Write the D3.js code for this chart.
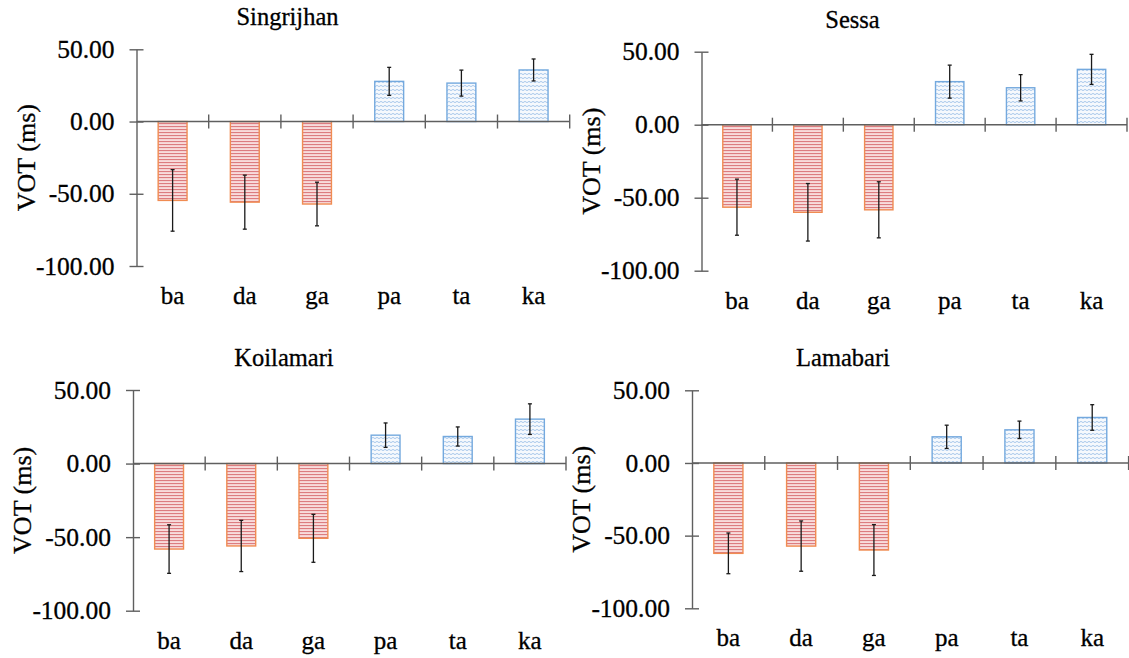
<!DOCTYPE html>
<html>
<head>
<meta charset="utf-8">
<script src="https://cdn.jsdelivr.net/npm/d3@7/dist/d3.min.js"></script>
<style>
  html, body { margin: 0; padding: 0; background: #fff; }
  svg { display: block; }
  text { font-family: "Liberation Serif", "Times New Roman", serif; fill: #000; stroke: #000; stroke-width: 0.3px; }
</style>
</head>
<body>
<svg id="chart" width="1129" height="658"></svg>
<script>
// ---- data ----
const categories = ["ba", "da", "ga", "pa", "ta", "ka"];
const yTicks = [50, 0, -50, -100];
const panelTitles = ["Singrijhan", "Sessa", "Koilamari", "Lamabari"];
const singrijhanMean = [-54.6, -55.8, -57.1, 27.8, 26.6, 35.7];
const singrijhanSD   = [21.3, 18.7, 15.1, 9.7, 9.0, 7.6];
const sessaMean      = [-56.5, -60.0, -58.3, 29.5, 25.3, 37.9];
const sessaSD        = [19.2, 19.7, 19.2, 11.3, 9.0, 10.3];
const koilamariMean  = [-58.1, -56.0, -50.8, 19.3, 18.4, 30.2];
const koilamariSD    = [16.5, 17.4, 16.3, 8.3, 6.5, 10.4];
const lamabariMean   = [-62.2, -57.2, -59.9, 18.0, 22.8, 31.3];
const lamabariSD     = [14.0, 17.3, 17.5, 8.0, 6.0, 8.8];

const means = [singrijhanMean, sessaMean, koilamariMean, lamabariMean];
const sds = [singrijhanSD, sessaSD, koilamariSD, lamabariSD];

// ---- layout (pixel geometry of each panel) ----
const layout = [
  { axisX: 136.5, endX: 569.7, yTop: 49.3, yBot: 266.0 },
  { axisX: 701.5, endX: 1127.0, yTop: 51.7, yBot: 270.7 },
  { axisX: 133.0, endX: 566.0, yTop: 390.0, yBot: 610.7 },
  { axisX: 692.0, endX: 1128.6, yTop: 390.3, yBot: 608.3 }
];
const serif = '"Liberation Serif", "Times New Roman", serif';

const svg = d3.select("#chart");
svg.append("rect").attr("width", 1129).attr("height", 658).attr("fill", "#fff");

const defs = svg.append("defs");
// horizontal stripes pattern (voiced, negative)
const pNeg = defs.append("pattern").attr("id", "negPat")
  .attr("patternUnits", "userSpaceOnUse").attr("width", 6).attr("height", 3);
pNeg.append("rect").attr("width", 6).attr("height", 3).attr("fill", "#f8dcdc");
pNeg.append("rect").attr("y", 0).attr("width", 6).attr("height", 1.1).attr("fill", "#dc7c80");
// wavy pattern (voiceless, positive)
const pPos = defs.append("pattern").attr("id", "posPat")
  .attr("patternUnits", "userSpaceOnUse").attr("width", 4).attr("height", 4);
pPos.append("rect").attr("width", 4).attr("height", 4).attr("fill", "#f6f9fd");
pPos.append("path").attr("d", "M0,2 Q1,0.8 2,2 T4,2")
  .attr("fill", "none").attr("stroke", "#9ec2e9").attr("stroke-width", 0.9);

const axisColor = "#5f5f5f";

layout.forEach((L, pi) => {
  const g = svg.append("g").attr("font-family", serif);
  const y = d3.scaleLinear().domain([-100, 50]).range([L.yBot, L.yTop]);
  const x = d3.scaleBand().domain(categories).range([L.axisX, L.endX])
    .paddingInner(0.6).paddingOuter(0.3);
  const step = x.step();
  const y0 = y(0);

  const data = categories.map((c, i) => ({ cat: c, mean: means[pi][i], sd: sds[pi][i] }));

  // bars
  g.selectAll("rect.bar").data(data).enter().append("rect")
    .attr("class", "bar")
    .attr("x", d => x(d.cat))
    .attr("width", x.bandwidth())
    .attr("y", d => Math.min(y(d.mean), y0))
    .attr("height", d => Math.abs(y(d.mean) - y0))
    .attr("fill", d => d.mean < 0 ? "url(#negPat)" : "url(#posPat)")
    .attr("stroke", d => d.mean < 0 ? "#f08c52" : "#74a9de")
    .attr("stroke-width", 1.4);

  // zero line + category boundary ticks
  g.append("line").attr("x1", L.axisX).attr("x2", L.endX)
    .attr("y1", y0).attr("y2", y0)
    .attr("stroke", axisColor).attr("stroke-width", 1.4);
  const bounds = d3.range(1, categories.length + 1).map(i => L.axisX + i * step);
  g.selectAll("line.ctick").data(bounds).enter().append("line")
    .attr("class", "ctick")
    .attr("x1", d => d).attr("x2", d => d)
    .attr("y1", y0 - 7).attr("y2", y0 + 7)
    .attr("stroke", axisColor).attr("stroke-width", 1.4);

  // y axis
  const ax = g.append("g").attr("transform", `translate(${L.axisX},0)`)
    .call(d3.axisLeft(y).tickValues(yTicks).tickSizeOuter(0).tickSizeInner(7)
      .tickPadding(15).tickFormat(d => d.toFixed(2)));
  ax.attr("font-family", serif).attr("font-size", 25.5);
  ax.select(".domain").attr("stroke", axisColor).attr("stroke-width", 1.4);
  ax.selectAll(".tick line").attr("x1", 7).attr("stroke", axisColor).attr("stroke-width", 1.4);
  ax.selectAll(".tick text").attr("font-size", 25.5).attr("font-family", serif)
    .style("font-family", serif).attr("fill", "#000");

  // error bars
  const cap = 2;
  const eb = g.selectAll("g.err").data(data).enter().append("g").attr("class", "err");
  eb.append("line")
    .attr("x1", d => x(d.cat) + x.bandwidth() / 2).attr("x2", d => x(d.cat) + x.bandwidth() / 2)
    .attr("y1", d => y(d.mean + d.sd)).attr("y2", d => y(d.mean - d.sd))
    .attr("stroke", "#1a1a1a").attr("stroke-width", 1.3);
  [1, -1].forEach(s => {
    eb.append("line")
      .attr("x1", d => x(d.cat) + x.bandwidth() / 2 - cap).attr("x2", d => x(d.cat) + x.bandwidth() / 2 + cap)
      .attr("y1", d => y(d.mean + s * d.sd)).attr("y2", d => y(d.mean + s * d.sd))
      .attr("stroke", "#1a1a1a").attr("stroke-width", 1.3);
  });

  // category labels
  g.selectAll("text.cat").data(categories).enter().append("text")
    .attr("class", "cat")
    .attr("x", d => x(d) + x.bandwidth() / 2)
    .attr("y", y(-100) + 38)
    .attr("text-anchor", "middle").attr("font-size", 25)
    .text(d => d);

  // title
  g.append("text").attr("x", L.axisX + 151).attr("y", L.yTop - 24)
    .attr("text-anchor", "middle").attr("font-size", 24.5).text(panelTitles[pi]);

  // y label
  const cy = (L.yTop + L.yBot) / 2;
  g.append("text")
    .attr("transform", `translate(${L.axisX - 111},${cy}) rotate(-90)`)
    .attr("text-anchor", "middle").attr("dy", "0.35em").attr("font-size", 26)
    .text("VOT (ms)");
});
</script>
</body>
</html>
